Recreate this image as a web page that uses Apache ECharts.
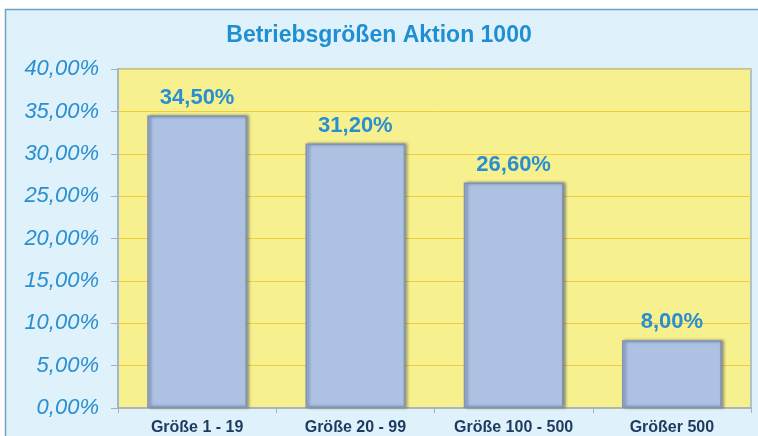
<!DOCTYPE html>
<html><head><meta charset="utf-8">
<script src="https://cdn.jsdelivr.net/npm/echarts@6/dist/echarts.min.js"></script>
<style>html,body{margin:0;padding:0;background:#fff;}#c{width:758px;height:436px;}</style>
</head><body><div id="c"></div>
<script>
const categories = ['Größe 1 - 19', 'Größe 20 - 99', 'Größe 100 - 500', 'Größer 500'];
const values = [34.5, 31.2, 26.6, 8.0];
const yTicks = [0, 5, 10, 15, 20, 25, 30, 35, 40];
const titleText = 'Betriebsgrößen Aktion 1000';

const fmt = v => v.toFixed(2).replace('.', ',') + '%';
const chart = echarts.init(document.getElementById('c'));
chart.setOption({
  backgroundColor: 'transparent',
  animation: false,
  graphic: [{
    type: 'rect', z: -10, silent: true,
    shape: { x: 5.5, y: 9.5, width: 800, height: 500 },
    style: { fill: '#dff1fa', stroke: '#6fa0c8', lineWidth: 1.5 }
  }],
  title: {
    text: titleText, left: 'center', top: 19,
    textStyle: { color: '#1e8fd0', fontSize: 23, fontWeight: 'bold', fontFamily: 'Liberation Sans' }
  },
  grid: { left: 118, right: 7, top: 69, bottom: 28, containLabel: false,
    show: true, backgroundColor: '#f7f08f', borderColor: '#9fb3c8', borderWidth: 1.5 },
  xAxis: {
    type: 'category', data: categories,
    axisLine: { show: true, lineStyle: { color: '#9fb3c8', width: 1.5 } },
    axisTick: { show: true, length: 5, lineStyle: { color: '#9fb3c8' } },
    axisLabel: { color: '#1f3a5f', fontSize: 16, fontWeight: 'bold', fontFamily: 'Liberation Sans', margin: 12 }
  },
  yAxis: {
    type: 'value', min: yTicks[0], max: yTicks[yTicks.length - 1], interval: 5,
    axisLine: { show: true, lineStyle: { color: '#9fb3c8', width: 1.5 } },
    axisTick: { show: true, length: 7, lineStyle: { color: '#9fb3c8' } },
    splitLine: { lineStyle: { color: '#f2cc3c', width: 1 } },
    axisLabel: { color: '#2a8fd0', fontSize: 22, fontStyle: 'italic', fontFamily: 'Liberation Sans', margin: 19,
      formatter: v => fmt(v) }
  },
  series: [{
    type: 'bar', data: values, barCategoryGap: '37%',
    itemStyle: { color: '#adc2e3', borderColor: '#8293b4', borderWidth: 1.5,
      shadowColor: 'rgba(40,50,80,0.55)', shadowBlur: 3, shadowOffsetX: 2, shadowOffsetY: 0 },
    label: { show: true, position: 'top', distance: 7, color: '#2a8fd0', fontSize: 22, fontWeight: 'bold',
      fontFamily: 'Liberation Sans', formatter: p => fmt(p.value) }
  }]
});
</script></body></html>
